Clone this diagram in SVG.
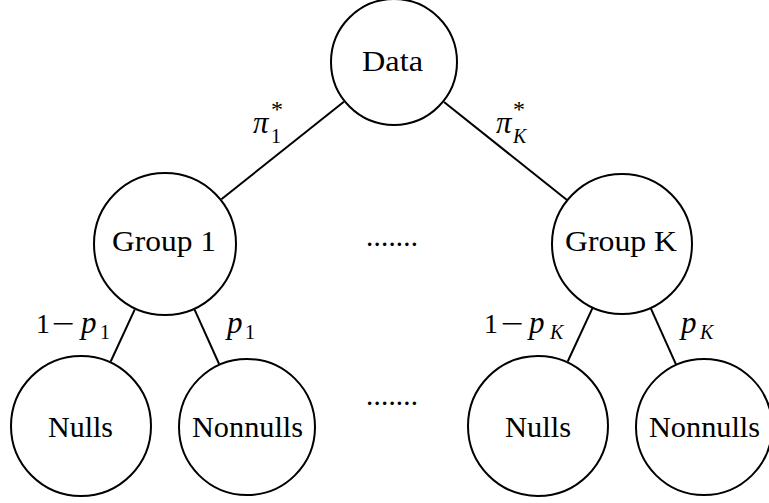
<svg xmlns="http://www.w3.org/2000/svg" width="769" height="503" viewBox="0 0 769 503">
<style>
.node circle{fill:#fff;stroke:#000;stroke-width:2}
text{font-family:"Liberation Serif","DejaVu Serif","Times New Roman",serif;fill:#000}
.lbl{font-size:29px}
.math{font-size:28px}
.mi{font-size:31px;font-style:italic}
.sub{font-size:20px}
.star{font-size:24px}
.it{font-style:italic}
.edges line{stroke:#000;stroke-width:2}
</style>
<rect width="769" height="503" fill="#fff"/>
<g id="connectors" class="edges">
<line x1="343.9" y1="101.8" x2="221.4" y2="199.2"/>
<line x1="444" y1="102" x2="567.3" y2="200.3"/>
<line x1="134.8" y1="309.4" x2="110.7" y2="361.5"/>
<line x1="194.6" y1="309.7" x2="219.1" y2="364"/>
<line x1="592.7" y1="307.6" x2="567.7" y2="361.5"/>
<line x1="650.6" y1="307.9" x2="676.2" y2="364.9"/>
</g>
<g id="data" class="node"><circle cx="394" cy="62" r="63"/><text class="lbl" x="362" y="71" textLength="61" lengthAdjust="spacingAndGlyphs">Data</text></g>
<g id="group1" class="node"><circle cx="165" cy="244" r="71"/><text class="lbl" x="112" y="251" textLength="104" lengthAdjust="spacingAndGlyphs">Group 1</text></g>
<g id="groupK" class="node"><circle cx="622" cy="244" r="70"/><text class="lbl" x="565" y="251" textLength="112" lengthAdjust="spacingAndGlyphs">Group K</text></g>
<g id="nulls1" class="node"><circle cx="81" cy="426" r="70"/><text class="lbl" x="48" y="437" textLength="65" lengthAdjust="spacingAndGlyphs">Nulls</text></g>
<g id="nonnulls1" class="node"><circle cx="247" cy="427" r="68"/><text class="lbl" x="192" y="437" textLength="111" lengthAdjust="spacingAndGlyphs">Nonnulls</text></g>
<g id="nullsK" class="node"><circle cx="538" cy="426" r="70"/><text class="lbl" x="505" y="437" textLength="66" lengthAdjust="spacingAndGlyphs">Nulls</text></g>
<g id="nonnullsK" class="node"><circle cx="704" cy="427" r="68"/><text class="lbl" x="649" y="437" textLength="111" lengthAdjust="spacingAndGlyphs">Nonnulls</text></g>
<g id="labels">
<text class="mi" x="253" y="133">π</text>
<text class="star" x="271" y="117">*</text>
<text class="sub" x="271" y="143">1</text>
<text class="mi" x="496" y="133">π</text>
<text class="star" x="513" y="117">*</text>
<text class="sub it" x="513" y="143">K</text>
<text class="math" x="36" y="333">1</text>
<text class="math" transform="translate(52,333) scale(1.45,1)" x="0" y="0">−</text>
<text class="mi" x="81" y="333">p</text>
<text class="sub" x="100" y="339">1</text>
<text class="math" x="484" y="333">1</text>
<text class="math" transform="translate(501,333) scale(1.45,1)" x="0" y="0">−</text>
<text class="mi" x="529" y="333">p</text>
<text class="sub it" x="550" y="339">K</text>
<text class="mi" x="227" y="333">p</text>
<text class="sub" x="245" y="339">1</text>
<text class="mi" x="681" y="333">p</text>
<text class="sub it" x="700" y="339">K</text>
<text class="lbl" x="366" y="246" textLength="52">.......</text>
<text class="lbl" x="366" y="405" textLength="52">.......</text>
</g>
</svg>
